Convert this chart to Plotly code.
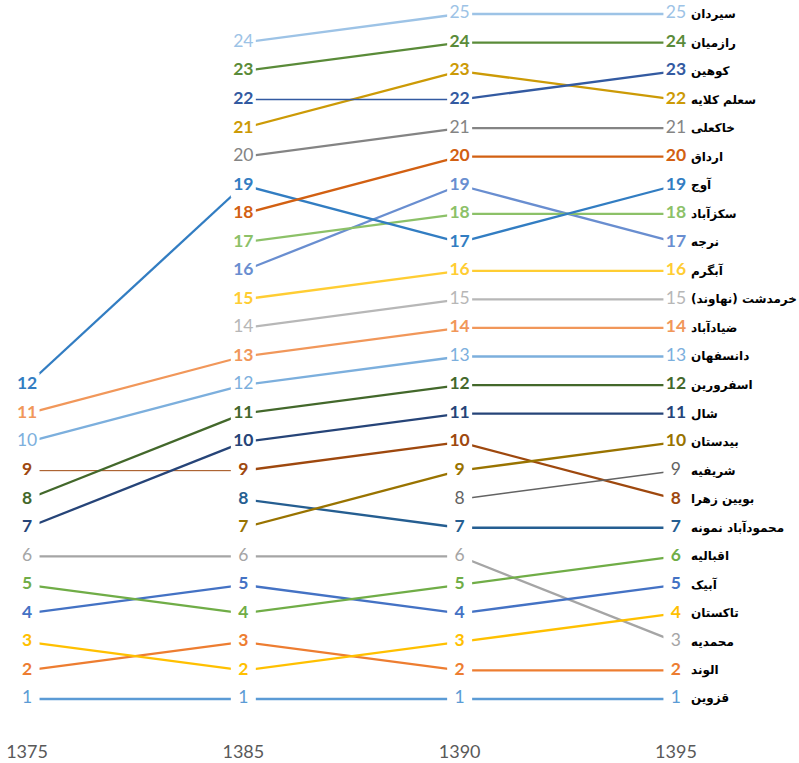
import plotly.graph_objects as go

# Rank of each city (1 = largest) in each census year; None = not yet a city
years = ["1375", "1385", "1390", "1395"]

cities = [
    "قزوین", "الوند", "محمدیه", "تاکستان", "آبیک", "اقبالیه",
    "محمودآباد نمونه", "بویین زهرا", "شریفیه", "بیدستان", "شال",
    "اسفرورین", "دانسفهان", "ضیادآباد", "خرمدشت (نهاوند)", "آبگرم",
    "نرجه", "سکزآباد", "آوج", "ارداق", "خاکعلی", "سعلم کلایه",
    "کوهین", "رازمیان", "سیردان",
]

rank_1375 = [1, 2, 6, 3, 4, 5, None, 9, None, None, 7, 8, 10, 11, None,
             None, None, None, 12, None, None, None, None, None, None]
rank_1385 = [1, 3, 6, 2, 5, 4, 8, 9, None, 7, 10, 11, 12, 13, 14,
             15, 16, 17, 19, 18, 20, 21, 22, 23, 24]
rank_1390 = [1, 2, 6, 3, 4, 5, 7, 10, 8, 9, 11, 12, 13, 14, 15,
             16, 19, 18, 17, 20, 21, 23, 22, 24, 25]
rank_1395 = [1, 2, 3, 4, 5, 6, 7, 8, 9, 10, 11, 12, 13, 14, 15,
             16, 17, 18, 19, 20, 21, 22, 23, 24, 25]

# Styling per city
colors = [
    "#5B9BD5", "#ED7D31", "#A5A5A5", "#FFC000", "#4472C4", "#70AD47",
    "#255E91", "#9E480E", "#636363", "#997300", "#264478", "#43682B",
    "#7CAFDD", "#F1975A", "#B7B7B7", "#FFCD33", "#698ED0", "#8CC168",
    "#327DC2", "#D26012", "#848484", "#CC9A06", "#335AA1", "#5A8B39",
    "#9DC3E6",
]
light = {"قزوین", "محمدیه", "دانسفهان", "خرمدشت (نهاوند)", "خاکعلی",
         "سیردان", "شریفیه"}
# thinner strokes for a few segments: (city, index of segment start)
thin = {("بویین زهرا", 0): 1.0, ("کوهین", 1): 1.5, ("شریفیه", 2): 1.5}

ranks = list(zip(rank_1375, rank_1385, rank_1390, rank_1395))

fig = go.Figure()

# connecting lines, one trace per segment
for city, col, r in zip(cities, colors, ranks):
    for i in range(len(years) - 1):
        if r[i] is None or r[i + 1] is None:
            continue
        fig.add_trace(go.Scatter(
            x=[years[i], years[i + 1]], y=[r[i], r[i + 1]],
            mode="lines", line=dict(color=col, width=thin.get((city, i), 2.3)),
            hoverinfo="skip", showlegend=False,
        ))

# rank labels on white boxes that break the lines around each number
for city, col, r in zip(cities, colors, ranks):
    xs = [y for y, v in zip(years, r) if v is not None]
    vs = [v for v in r if v is not None]
    fig.add_trace(go.Scatter(
        x=xs, y=vs, mode="markers+text",
        text=[str(v) for v in vs], textposition="middle center",
        textfont=dict(family="Lato", size=17.5, color=col,
                      weight="normal" if city in light else "bold"),
        marker=dict(symbol="square", size=25, color="white", line=dict(width=0)),
        hoverinfo="skip", showlegend=False,
    ))

# city names beside the last year's ranks (category index of the last year)
last = len(years) - 1
for city, r in zip(cities, ranks):
    fig.add_annotation(
        x=last, y=r[-1], text=city + "\u200f", showarrow=False,
        xref="x", yref="y",
        xanchor="left", yanchor="middle", xshift=13,
        font=dict(family="DejaVu Sans", size=12, color="black", weight="bold"),
    )

fig.update_layout(
    width=799, height=763,
    margin=dict(l=0, r=0, t=0, b=43),
    paper_bgcolor="white", plot_bgcolor="white",
    xaxis=dict(type="category", range=[-0.125, 3.569], showgrid=False,
               zeroline=False, showline=False, ticks="outside", ticklen=15,
               tickcolor="rgba(0,0,0,0)", automargin=False,
               tickfont=dict(family="Lato", size=18, color="#595959")),
    yaxis=dict(range=[0.264, 25.49], visible=False, automargin=False),
)

fig.write_html("out.html")
